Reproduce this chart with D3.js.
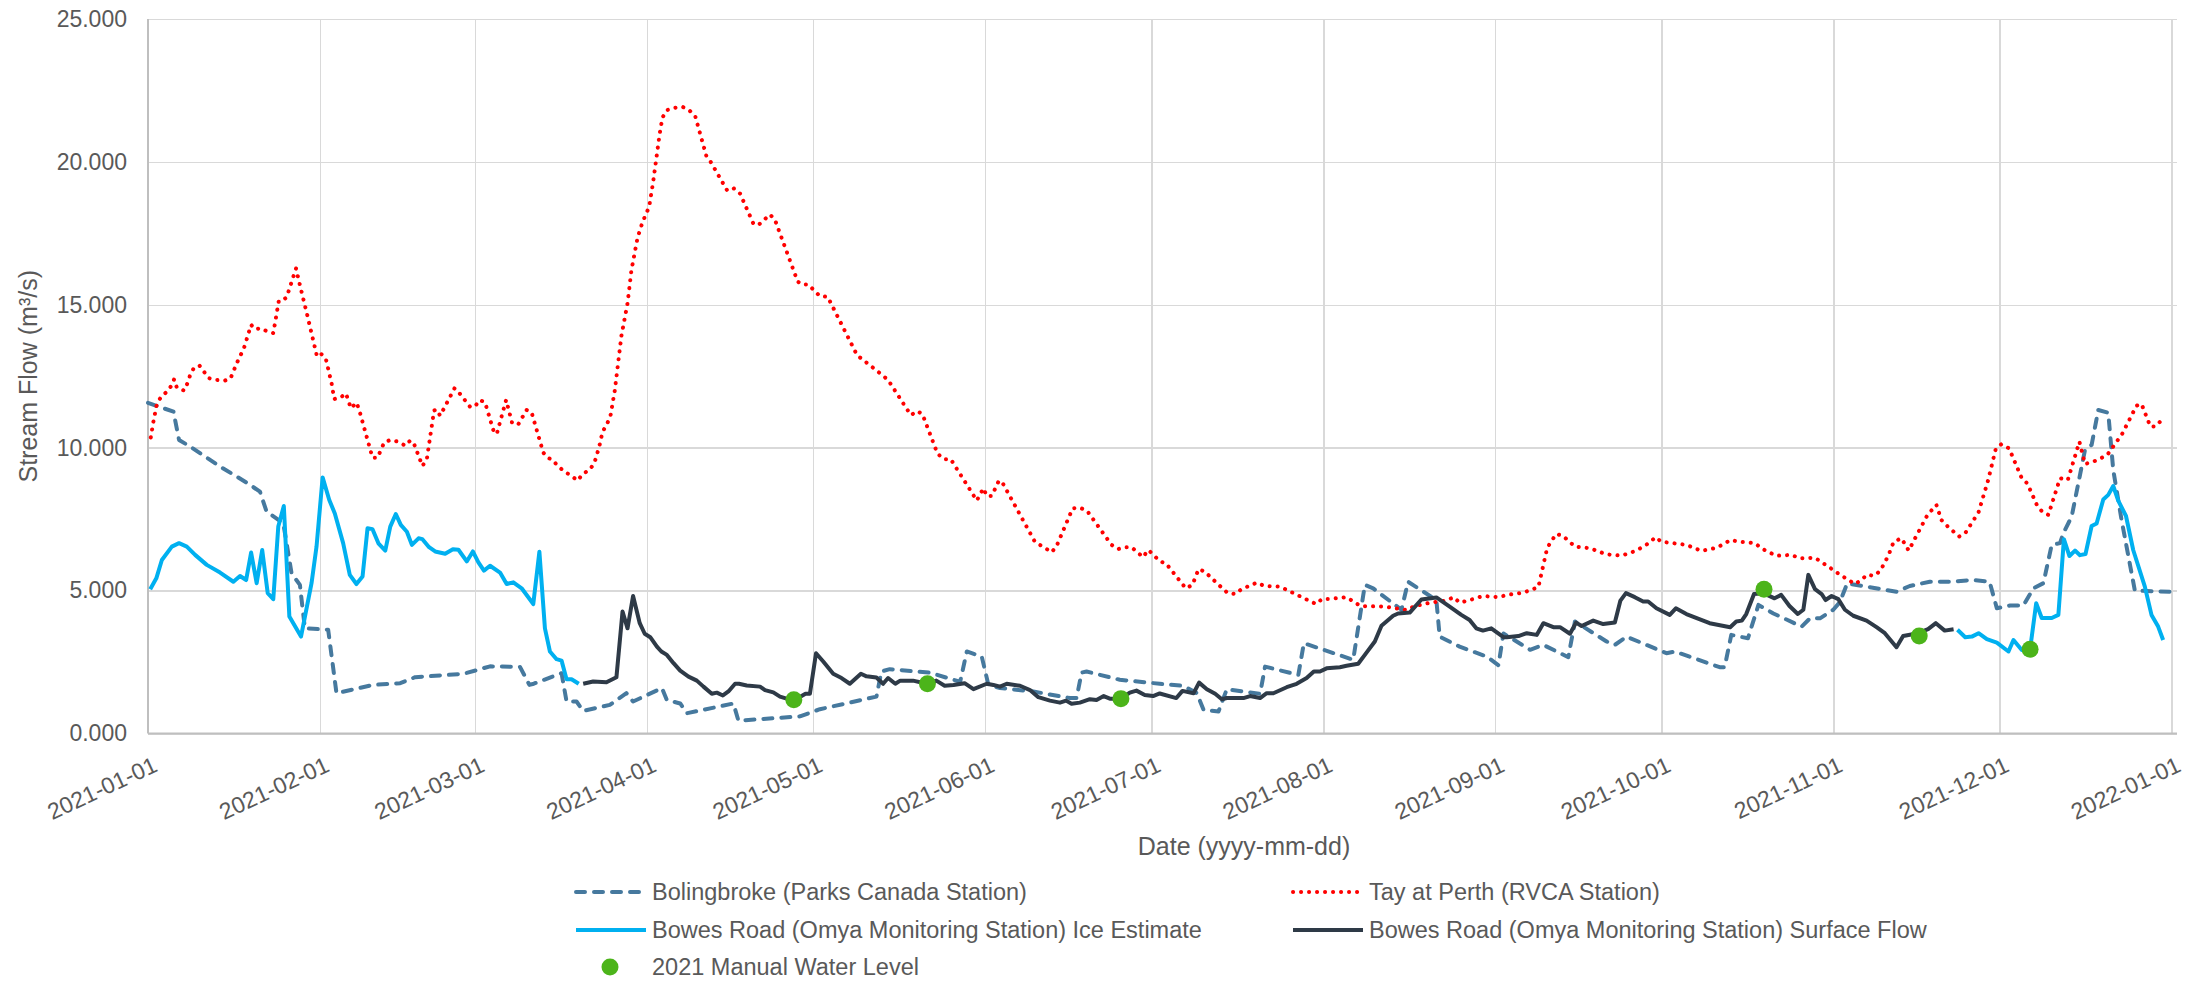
<!DOCTYPE html>
<html lang="en">
<head>
<meta charset="UTF-8">
<title>Stream Flow 2021</title>
<script src="https://cdn.jsdelivr.net/npm/d3@7"></script>
<style>
    body{ margin:0; background:#fff; }
    svg{ display:block; font-family:"Liberation Sans", Arial, sans-serif; }
    .axis text{ fill:#595959; font-size:23px; }
    .axis .tick line{ stroke:#d9d9d9; stroke-width:1.5; shape-rendering:crispEdges; }
    .axis path.domain{ display:none; }
    .axis-title{ fill:#595959; font-size:25px; }
    .legend text{ fill:#595959; font-size:23.5px; }
</style>
</head>
<body>
<div id="root"></div>
<script>
    // day offsets from 2021-01-01, flow in m3/s
    let bolingbroke = [[0,11.57],[4.6,11.26],[5.6,10.27],[7.6,10.04],[13,9.34],[16,8.99],[18.4,8.7],[20.2,8.46],[21.4,7.76],[24.4,7.36],[25.9,5.6],[27.4,5.2],[28.3,3.68],[32.5,3.63],[34,1.41],[40.6,1.7],[45.5,1.76],[48.2,1.97],[56.9,2.09],[59.9,2.25],[61.7,2.35],[67.1,2.33],[68.8,1.7],[69.4,1.73],[74.6,2.11],[75.5,1.12],[77.3,1.12],[78.5,0.79],[83.3,1.0],[86.3,1.41],[87.5,1.12],[92.7,1.59],[93.6,1.17],[96,1.05],[97.2,0.71],[105.6,1.05],[106.5,0.45],[117.6,0.6],[121.2,0.85],[131.4,1.29],[132.3,2.17],[133.8,2.25],[141,2.13],[146.5,1.81],[147.7,2.87],[150.4,2.69],[151.6,1.7],[153.7,1.59],[159.7,1.47],[166.3,1.24],[167.5,1.24],[168.4,2.13],[169.3,2.17],[175.3,1.88],[182.5,1.74],[186.7,1.67],[189.2,1.41],[190.4,0.83],[193.1,0.77],[194.6,1.55],[200.6,1.39],[201.5,2.34],[207.5,2.05],[208.5,3.16],[217.4,2.58],[219.5,5.2],[221,5.08],[226.1,4.33],[227.3,5.31],[232.4,4.67],[233,3.39],[236.6,3.04],[241.5,2.69],[243.6,2.39],[244.5,3.5],[249.3,2.93],[251.7,3.1],[256.2,2.67],[257.4,3.92],[263.1,3.22],[264.6,3.1],[266.7,3.39],[273.9,2.81],[275.4,2.87],[283.5,2.32],[284.4,2.32],[285.6,3.45],[288.6,3.33],[290.5,4.5],[293.2,4.2],[298.3,3.74],[299.8,4.03],[301.6,4.03],[304,4.33],[305.2,4.6],[306.5,5.25],[309.4,5.16],[315.4,4.96],[317.8,5.16],[321.4,5.31],[325,5.31],[329.2,5.37],[332.2,5.31],[333.5,4.38],[335.9,4.48],[338.3,4.48],[340.1,5.08],[341.9,5.26],[343.4,6.6],[344.9,6.66],[345.5,7.01],[347,7.59],[349.4,9.92],[350.6,10.1],[351.8,11.32],[353.6,11.22],[354.5,9.22],[356,7.47],[358.4,5.0],[364.7,4.96]]

    let tayPerth = [[0.5,10.36],[1,10.94],[1.6,11.53],[2.3,11.76],[3.4,11.96],[4.3,12.19],[4.7,12.39],[5.2,12.1],[6.5,12.0],[7.1,12.25],[7.6,12.54],[8.3,12.8],[9.3,12.87],[10.1,12.66],[11,12.43],[12.4,12.37],[13.9,12.35],[14.9,12.43],[16,12.95],[17.3,13.48],[18.6,14.3],[19.3,14.15],[20.4,14.18],[21.5,14.07],[22.6,14.01],[23.6,15.14],[24.3,15.16],[25,15.26],[26.7,16.27],[27.4,15.69],[28.8,14.58],[30.5,13.18],[31.3,13.27],[32.1,13.09],[33.1,12.27],[33.6,11.7],[34.9,11.78],[35.7,11.9],[36.6,11.38],[37.6,11.58],[38.1,11.32],[40.5,9.65],[41.4,9.65],[42.6,10.18],[43.7,10.27],[45.1,10.21],[46.4,10.07],[47.3,10.25],[47.9,10.18],[49.5,9.36],[50.3,9.6],[51.6,11.3],[52,11.34],[52.7,11.12],[55.3,12.08],[56.3,11.88],[58.1,11.43],[58.9,11.43],[59.9,11.67],[60.8,11.58],[62.5,10.48],[63,10.54],[64.6,11.67],[65.7,10.85],[66.8,10.82],[68.3,11.32],[69.2,11.23],[71.3,9.83],[72,9.66],[73,9.57],[74,9.34],[75.2,9.16],[76.4,9.01],[77.5,8.85],[78.4,9.08],[79.6,9.22],[80.5,9.45],[81.4,10.04],[82,10.56],[82.7,10.79],[83.4,11.09],[84.2,12.0],[85.4,13.92],[86.5,15.05],[87.2,16.21],[88.3,17.34],[89.2,17.89],[90.4,18.43],[91.1,19.27],[92.3,20.99],[92.8,21.55],[93.6,21.81],[94.9,21.89],[96.4,21.93],[97.6,21.81],[98.7,21.61],[100.7,20.22],[101.5,20.0],[104.5,18.99],[105.7,19.07],[106.8,18.89],[109.2,17.84],[110.1,17.79],[112.2,18.16],[113.1,17.97],[117.2,15.81],[118,15.71],[119.1,15.71],[121.2,15.3],[122.6,15.28],[127.9,13.24],[129,13.07],[131.3,12.72],[133.5,12.37],[137.6,11.14],[138.8,11.28],[139.7,11.17],[142.4,9.8],[143.5,9.6],[144.8,9.6],[149.5,8.15],[150.7,8.58],[151.3,8.31],[152.2,8.31],[153.5,8.85],[154.2,8.75],[160,6.7],[161.9,6.48],[163,6.34],[163.9,6.56],[166.8,7.88],[168.1,7.9],[169.4,7.79],[173.8,6.6],[175,6.45],[176.2,6.52],[177.4,6.52],[179.5,6.17],[180.4,6.42],[181.2,6.29],[182.5,6.02],[183.6,5.96],[187.2,5.08],[188.4,5.2],[189.5,5.75],[190.6,5.67],[193.8,5.08],[194.8,4.91],[196.2,4.88],[197.3,5.06],[198.6,5.16],[200,5.28],[201.4,5.16],[204.2,5.14],[210.7,4.53],[211.8,4.71],[213.3,4.71],[216.2,4.77],[218.7,4.46],[223.1,4.44],[227.1,4.32],[228.5,4.46],[231.4,4.58],[234.2,4.65],[235.5,4.77],[236.6,4.58],[238.1,4.65],[240.8,4.81],[243.6,4.77],[245.2,4.85],[248.1,4.93],[250.8,5.12],[252.4,6.5],[254,6.98],[255.2,6.92],[257.4,6.54],[260.2,6.48],[263,6.27],[265.8,6.22],[268.5,6.4],[270.9,6.68],[271.9,6.87],[273,6.71],[277.5,6.6],[280.2,6.39],[283,6.5],[285.5,6.77],[287,6.71],[289.9,6.66],[291,6.48],[293.7,6.22],[296.5,6.25],[297.9,6.13],[300.7,6.15],[303.1,5.84],[305.5,5.52],[307.9,5.23],[309.1,5.37],[310,5.55],[311.4,5.52],[312.5,5.7],[313.9,6.21],[314.9,6.71],[316.3,6.83],[317.6,6.4],[319,6.92],[321,7.65],[322.6,8.0],[323.5,7.47],[324.5,7.27],[326.7,6.89],[327.8,7.01],[330.2,7.74],[331.9,8.84],[333.3,9.95],[334.3,10.12],[335.7,9.98],[338,8.93],[339,8.75],[340.8,7.96],[341.7,7.76],[342.8,7.65],[344.9,8.93],[346.3,8.87],[348.4,10.21],[349.4,9.43],[350.9,9.51],[353.4,9.74],[356.1,10.48],[358.7,11.47],[359.6,11.53],[361.2,10.74],[362.1,10.74],[363.1,10.94]]

    let iceWinter = [[0.4,5.05],[1.5,5.43],[2.5,6.07],[4.3,6.54],[5.6,6.66],[7,6.54],[8.5,6.25],[10.6,5.9],[13,5.63],[15.4,5.31],[16.6,5.51],[17.7,5.37],[18.6,6.33],[19.6,5.26],[20.6,6.42],[21.6,4.91],[22.6,4.7],[23.5,7.24],[24.5,7.96],[25.5,4.09],[27.6,3.39],[29.5,5.26],[30.4,6.54],[31.5,8.96],[32.7,8.17],[33.7,7.7],[35.2,6.66],[36.4,5.55],[37.6,5.23],[38.7,5.49],[39.6,7.18],[40.5,7.15],[41.6,6.64],[42.8,6.4],[43.7,7.24],[44.7,7.68],[45.6,7.3],[46.7,7.06],[47.6,6.6],[48.8,6.83],[49.5,6.8],[50.7,6.52],[51.8,6.37],[53.6,6.29],[55,6.45],[56,6.43],[57.5,6.02],[58.6,6.37],[59.6,5.99],[60.6,5.7],[61.7,5.87],[63.5,5.63],[64.7,5.23],[65.9,5.29],[67.4,5.08],[69.5,4.53],[70.6,6.36],[71.6,3.68],[72.5,2.87],[73.7,2.6],[74.6,2.55],[75.5,1.9],[76.4,1.9],[77.7,1.74]]

    let iceDecember = [[326.4,3.63],[327.8,3.37],[329,3.39],[330.2,3.51],[331.7,3.3],[333.5,3.18],[335.6,2.87],[336.5,3.27],[338,2.92],[339.5,2.95],[340.6,4.56],[341.6,4.04],[343.4,4.04],[344.6,4.15],[345.6,6.8],[346.6,6.21],[347.6,6.4],[348.5,6.24],[349.5,6.28],[350.6,7.26],[351.5,7.35],[352.7,8.19],[353.6,8.35],[354.5,8.66],[355.4,8.15],[356.8,7.61],[358.1,6.42],[360.2,5.14],[361.4,4.15],[362.6,3.74],[363.5,3.27]]

    let surfaceFlow = [[78.5,1.74],[80.3,1.82],[82.7,1.79],[84.5,1.97],[85.6,4.27],[86.5,3.68],[87.5,4.81],[88.7,3.86],[89.6,3.49],[90.6,3.37],[91.8,3.04],[92.6,2.87],[93.6,2.75],[94.8,2.46],[96,2.2],[97.5,1.99],[99,1.85],[100.2,1.64],[101.7,1.39],[102.6,1.43],[103.7,1.33],[104.7,1.47],[105.9,1.74],[106.6,1.74],[108,1.68],[110.4,1.64],[111.3,1.52],[112.8,1.44],[114,1.29],[116.4,1.15],[118.6,1.39],[119.4,1.39],[120.5,2.81],[121.8,2.52],[123.6,2.09],[125.1,1.94],[126.6,1.74],[128.6,2.09],[129.6,2.0],[131.4,1.96],[132.6,1.74],[133.5,1.94],[134.8,1.74],[135.7,1.85],[138,1.85],[140.5,1.74],[142.2,1.85],[143.7,1.67],[145.3,1.7],[147.3,1.76],[148.9,1.55],[151.3,1.74],[152.5,1.7],[153.7,1.64],[154.9,1.74],[157.3,1.67],[159.1,1.52],[160.6,1.27],[162.7,1.15],[164.5,1.08],[165.6,1.15],[166.6,1.04],[168.1,1.08],[169.9,1.2],[171.1,1.17],[172.4,1.31],[173.5,1.22],[175.5,1.22],[177.1,1.43],[178.3,1.5],[179.8,1.35],[181.3,1.31],[182.5,1.4],[185.5,1.24],[186.6,1.49],[188.6,1.41],[189.6,1.78],[191,1.55],[192.5,1.39],[193.7,1.2],[194.6,1.24],[197.6,1.24],[198.8,1.31],[200.6,1.24],[201.8,1.41],[203,1.41],[205.4,1.62],[207.2,1.74],[209,1.94],[210.3,2.17],[211.4,2.17],[212.6,2.28],[215,2.32],[216.2,2.37],[218.3,2.44],[219.8,2.83],[221.3,3.22],[222.5,3.77],[224.6,4.12],[225.5,4.2],[227.6,4.23],[229.7,4.69],[232.4,4.76],[234.8,4.44],[236.9,4.15],[238.4,3.97],[239.6,3.68],[240.8,3.6],[242.3,3.68],[244.5,3.37],[245.1,3.37],[247.2,3.41],[248.7,3.51],[250.5,3.45],[251.7,3.86],[253.5,3.72],[254.7,3.72],[256.5,3.49],[257.6,3.88],[258.6,3.76],[260.7,3.95],[262.5,3.83],[264.6,3.88],[265.6,4.65],[266.6,4.91],[268.2,4.77],[269.7,4.62],[270.6,4.62],[272.1,4.38],[274.5,4.15],[275.6,4.38],[277.5,4.18],[281.7,3.86],[285.4,3.72],[286.5,3.92],[287.5,3.95],[288.3,4.18],[289.7,4.88],[291.4,4.91],[293.4,4.73],[294.6,4.85],[296.1,4.46],[297.6,4.18],[298.6,4.33],[299.5,5.55],[300.7,5.05],[301.9,4.88],[302.6,4.67],[303.7,4.81],[304.9,4.7],[306.1,4.33],[307.6,4.12],[310,3.95],[311.8,3.72],[313.3,3.51],[315.4,3.02],[316.6,3.41],[319.3,3.51],[321.1,3.65],[322.5,3.86],[324.1,3.6],[325.7,3.65]]

    let manualDays = [116.5, 140.6, 175.5, 291.5, 319.5, 339.5]
    let manualLevels = [1.18, 1.74, 1.22, 5.05, 3.41, 2.95]

    let yTicks = [0, 5, 10, 15, 20, 25]

    let width = 2195, height = 981
    let plotLeft = 148, plotRight = 2177, plotTop = 19, plotBottom = 733.5
    let start = new Date(2021, 0, 1)

    function toDate(day){
        return new Date(start.getTime() + day * 86400000)
    }

    let svg = d3.select("#root").append("svg").attr("width", width).attr("height", height)

    let x = d3.scaleTime().domain([start, new Date(2022, 0, 2)]).range([plotLeft, plotRight])
    let y = d3.scaleLinear().domain([0, 25]).range([plotBottom, plotTop])

    // y axis with grid lines
    let yAxis = d3.axisLeft(y).tickValues(yTicks).tickFormat(d3.format(".3f"))
        .tickSize(-(plotRight - plotLeft)).tickPadding(21)
    svg.append("g").attr("class", "axis y-axis")
        .attr("transform", "translate(" + plotLeft + ",0)")
        .call(yAxis)

    // x axis, one tick a month
    let xAxis = d3.axisBottom(x).ticks(d3.timeMonth.every(1)).tickFormat(d3.timeFormat("%Y-%m-%d"))
        .tickSize(-(plotBottom - plotTop))
    svg.append("g").attr("class", "axis x-axis")
        .attr("transform", "translate(0," + plotBottom + ")")
        .call(xAxis)
        .selectAll(".tick text")
        .attr("y", 0).attr("dy", 0)
        .attr("transform", "translate(10.4,37) rotate(-25)")
        .style("text-anchor", "end")

    // the two axis lines
    svg.append("line").attr("x1", plotLeft).attr("x2", plotRight).attr("y1", plotBottom).attr("y2", plotBottom)
        .attr("stroke", "#bfbfbf").attr("stroke-width", 2)
    svg.append("line").attr("x1", plotLeft).attr("x2", plotLeft).attr("y1", plotTop).attr("y2", plotBottom)
        .attr("stroke", "#bfbfbf").attr("stroke-width", 2)

    let line = d3.line().x(d => x(toDate(d[0]))).y(d => y(d[1]))

    let series = [
        {data: bolingbroke, color: "#46799e", dash: "9,9", cap: "round"},
        {data: tayPerth, color: "#ff0000", dash: "0.1,7.9", cap: "round"},
        {data: iceWinter, color: "#00b0f0", dash: null, cap: "butt"},
        {data: iceDecember, color: "#00b0f0", dash: null, cap: "butt"},
        {data: surfaceFlow, color: "#2e3a47", dash: null, cap: "butt"}
    ]

    series.forEach(s => {
        svg.append("path").datum(s.data)
            .attr("d", line)
            .attr("fill", "none")
            .attr("stroke", s.color)
            .attr("stroke-width", 4)
            .attr("stroke-linejoin", "round")
            .attr("stroke-linecap", s.cap)
            .attr("stroke-dasharray", s.dash)
    })

    svg.append("g").selectAll("circle")
        .data(manualDays.map((d, i) => [d, manualLevels[i]]))
        .join("circle")
        .attr("cx", d => x(toDate(d[0])))
        .attr("cy", d => y(d[1]))
        .attr("r", 8.5)
        .attr("fill", "#4cb41a")

    // axis titles
    svg.append("text").attr("class", "axis-title")
        .attr("transform", "translate(28," + ((plotTop + plotBottom) / 2) + ") rotate(-90)")
        .attr("text-anchor", "middle").attr("dy", "0.35em")
        .text("Stream Flow (m³/s)")
    svg.append("text").attr("class", "axis-title")
        .attr("x", 1244).attr("y", 846).attr("dy", "0.35em")
        .attr("text-anchor", "middle")
        .text("Date (yyyy-mm-dd)")

    // legend
    let legendItems = [
        {label: "Bolingbroke (Parks Canada Station)", x: 574, y: 892, color: "#46799e", dash: "9,9", cap: "round"},
        {label: "Tay at Perth (RVCA Station)", x: 1291, y: 892, color: "#ff0000", dash: "0.1,7.9", cap: "round"},
        {label: "Bowes Road (Omya Monitoring Station) Ice Estimate", x: 574, y: 930, color: "#00b0f0", dash: null, cap: "butt"},
        {label: "Bowes Road (Omya Monitoring Station) Surface Flow", x: 1291, y: 930, color: "#2e3a47", dash: null, cap: "butt"},
        {label: "2021 Manual Water Level", x: 574, y: 967, color: "#4cb41a", dot: true}
    ]

    let legend = svg.append("g").attr("class", "legend")
    legendItems.forEach(item => {
        if (item.dot) {
            legend.append("circle").attr("cx", item.x + 36).attr("cy", item.y).attr("r", 8.5).attr("fill", item.color)
        } else {
            legend.append("line")
                .attr("x1", item.x + 2).attr("x2", item.x + 72).attr("y1", item.y).attr("y2", item.y)
                .attr("stroke", item.color).attr("stroke-width", 4)
                .attr("stroke-linecap", item.cap).attr("stroke-dasharray", item.dash)
        }
        legend.append("text").attr("x", item.x + 78).attr("y", item.y).attr("dy", "0.35em").text(item.label)
    })
</script>
</body>
</html>
